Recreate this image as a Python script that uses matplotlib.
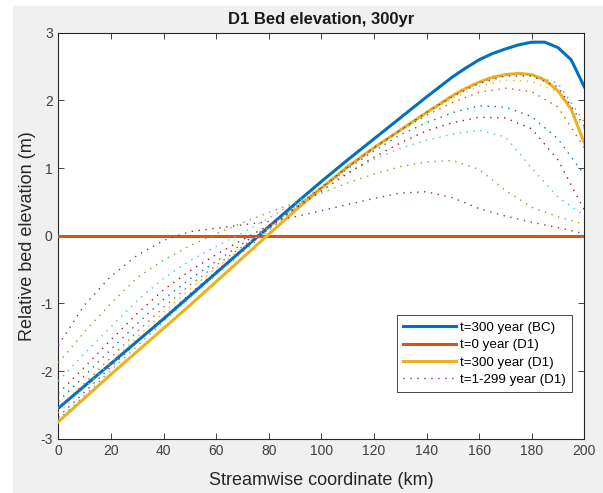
import matplotlib
matplotlib.use("Agg")
import matplotlib.pyplot as plt
from matplotlib.patches import Rectangle

plt.rcParams['font.family'] = ['Liberation Sans', 'DejaVu Sans']
plt.rcParams['axes.unicode_minus'] = False

# streamwise coordinate (km)
x_solid = [0, 10, 20, 30, 40, 50, 60, 70, 80, 90, 100, 110, 120, 130, 140,
           150, 155, 160, 165, 170, 175, 180, 185, 190, 195, 200]
x_dot = [0, 10, 20, 30, 40, 50, 60, 70, 80, 90, 100, 110, 120, 130, 140,
         150, 160, 170, 180, 190, 200]

# t=300 year, boundary-condition run
z_bc_300 = [-2.55, -2.22, -1.89, -1.56, -1.23, -0.89, -0.55, -0.21, 0.13, 0.47,
            0.80, 1.12, 1.43, 1.74, 2.05, 2.35, 2.48, 2.60, 2.69, 2.76, 2.82,
            2.86, 2.86, 2.78, 2.60, 2.20]
# t=0 year, D1
z_d1_0 = [0.0] * len(x_solid)
# t=300 year, D1
z_d1_300 = [-2.75, -2.40, -2.05, -1.71, -1.37, -1.03, -0.68, -0.33, 0.02, 0.37,
            0.70, 1.02, 1.30, 1.56, 1.82, 2.07, 2.18, 2.27, 2.34, 2.38, 2.40,
            2.38, 2.30, 2.14, 1.87, 1.37]

# intermediate years, D1 (earliest first)
z_d1_mid = [
    [-1.62, -1.02, -0.60, -0.29, -0.07, 0.06, 0.11, 0.16, 0.21, 0.28, 0.37,
     0.46, 0.55, 0.63, 0.65, 0.56, 0.40, 0.29, 0.20, 0.12, 0.03],
    [-1.88, -1.42, -1.00, -0.62, -0.36, -0.15, 0.03, 0.19, 0.34, 0.49, 0.63,
     0.78, 0.91, 1.02, 1.09, 1.11, 0.98, 0.67, 0.42, 0.28, 0.17],
    [-2.15, -1.74, -1.35, -0.96, -0.63, -0.37, -0.16, 0.04, 0.26, 0.49, 0.72,
     0.93, 1.13, 1.29, 1.41, 1.50, 1.56, 1.46, 1.00, 0.57, 0.30],
    [-2.33, -1.94, -1.54, -1.15, -0.80, -0.52, -0.28, -0.06, 0.15, 0.40, 0.66,
     0.92, 1.16, 1.37, 1.55, 1.67, 1.75, 1.74, 1.58, 1.12, 0.38],
    [-2.45, -2.07, -1.68, -1.30, -0.94, -0.64, -0.38, -0.12, 0.14, 0.42, 0.71,
     0.99, 1.25, 1.49, 1.67, 1.82, 1.92, 1.90, 1.76, 1.43, 0.90],
    [-2.55, -2.18, -1.80, -1.42, -1.06, -0.73, -0.44, -0.16, 0.13, 0.42, 0.72,
     1.01, 1.29, 1.55, 1.78, 1.97, 2.12, 2.18, 2.13, 1.90, 1.30],
    [-2.62, -2.25, -1.87, -1.50, -1.13, -0.79, -0.48, -0.18, 0.12, 0.42, 0.72,
     1.01, 1.30, 1.56, 1.81, 2.03, 2.21, 2.30, 2.28, 2.12, 1.58],
    [-2.68, -2.31, -1.94, -1.57, -1.21, -0.86, -0.53, -0.21, 0.10, 0.41, 0.71,
     1.01, 1.30, 1.56, 1.82, 2.06, 2.25, 2.36, 2.36, 2.20, 1.62],
    [-2.72, -2.36, -1.99, -1.63, -1.27, -0.92, -0.58, -0.25, 0.08, 0.40, 0.71,
     1.02, 1.30, 1.56, 1.83, 2.08, 2.27, 2.38, 2.38, 2.25, 1.68],
]

# MATLAB default colour order
colors = ['#0072BD', '#D95319', '#EDB120', '#7E2F8E', '#77AC30', '#4DBEEE', '#A2142F']

fig = plt.figure(figsize=(6.03, 4.93), dpi=100, facecolor='white')
fig.patches.append(Rectangle((13 / 603, 0), 1, 487 / 493, transform=fig.transFigure,
                             facecolor='#f0f0f0', edgecolor='none', zorder=-10))
ax = fig.add_axes([58.3 / 603, 54.3 / 493, 526 / 603, 406 / 493])
ax.set_facecolor('white')

ax.plot(x_solid, z_bc_300, color=colors[0], lw=2.2, label='t=300 year (BC)', zorder=3)
ax.plot(x_solid, z_d1_0, color=colors[1], lw=2.2, label='t=0 year (D1)', zorder=3)
ax.plot(x_solid, z_d1_300, color=colors[2], lw=2.2, label='t=300 year (D1)', zorder=3)
for i, z in enumerate(z_d1_mid):
    c = colors[(i + 3) % len(colors)]
    ax.plot(x_dot, z, color=c, lw=1.0, dashes=(1, 4), zorder=4,
            label='t=1-299 year (D1)' if i == 0 else None)

ax.set_xlim(0, 200)
ax.set_ylim(-3, 3)
ax.set_xticks(range(0, 201, 20))
ax.set_yticks(range(-3, 4))
ax.tick_params(direction='in', top=True, right=True, length=4, width=0.6,
               colors='#262626', labelsize=10, labelcolor='#404040', pad=4)
for s in ax.spines.values():
    s.set_color('#262626')
    s.set_linewidth(0.8)

ax.set_title('D1 Bed elevation, 300yr', fontsize=12, fontweight='bold', pad=6, color='#1a1a1a')
ax.set_xlabel('Streamwise coordinate (km)', fontsize=13, color='#262626', labelpad=10)
ax.set_ylabel('Relative bed elevation (m)', fontsize=13, color='#262626', labelpad=3)

leg = ax.legend(loc='lower right', bbox_to_anchor=(0.977, 0.115), borderaxespad=0,
                fontsize=9.6, handlelength=4.0, handletextpad=0.3, borderpad=0.45,
                labelspacing=0.38, fancybox=False, framealpha=1, edgecolor='#262626')
leg.get_frame().set_linewidth(0.6)

fig.savefig('out.png', dpi=100, facecolor=fig.get_facecolor())
